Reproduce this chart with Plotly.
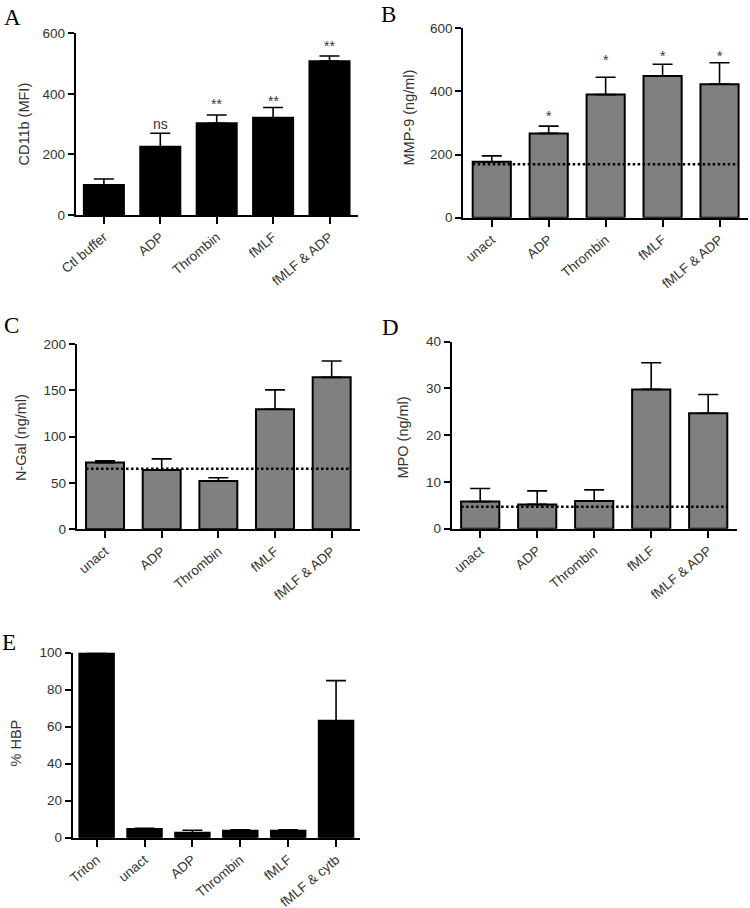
import plotly.graph_objects as go

W, H = 750, 908

# ---------------- data ----------------
A_cats = ["Ctl buffer", "ADP", "Thrombin", "fMLF", "fMLF & ADP"]
A_vals = [99, 225, 303, 321, 508]
A_err = [20, 45, 27, 34, 17]
A_sig = ["", "ns", "**", "**", "**"]
A_sig_y = [None, 300, 368, 378, 559]
A_ticks = [0, 200, 400, 600]

B_cats = ["unact", "ADP", "Thrombin", "fMLF", "fMLF & ADP"]
B_vals = [177, 267, 390, 449, 423]
B_err = [19, 23, 55, 37, 68]
B_base = 169
B_sig = ["", "*", "*", "*", "*"]
B_sig_y = [None, 321, 499, 513, 513]
B_ticks = [0, 200, 400, 600]

C_cats = ["unact", "ADP", "Thrombin", "fMLF", "fMLF & ADP"]
C_vals = [72, 64, 52, 129.5, 164]
C_err = [1.8, 12, 3.7, 21, 17.6]
C_base = 65.4
C_ticks = [0, 50, 100, 150, 200]

D_cats = ["unact", "ADP", "Thrombin", "fMLF", "fMLF & ADP"]
D_vals = [5.8, 5.2, 5.9, 29.8, 24.7]
D_err = [2.8, 2.9, 2.4, 5.7, 4.0]
D_base = 4.7
D_ticks = [0, 10, 20, 30, 40]

E_cats = ["Triton", "unact", "ADP", "Thrombin", "fMLF", "fMLF & cytb"]
E_vals = [100, 4.7, 2.7, 3.8, 3.8, 63.2]
E_err = [0, 0.4, 1.3, 0.5, 0.5, 21.7]
E_ticks = [0, 20, 40, 60, 80, 100]

# ---------------- style / layout helpers ----------------
TXT = "#333333"
SANS = "Liberation Sans, Arial, sans-serif"
SERIF = "Liberation Serif, Times New Roman, serif"


def px_x(p):
    return p / W


def px_y(p):
    return 1 - p / H


panels = [
    dict(cats=A_cats, vals=A_vals, err=A_err, fill="black", bw=0.71, ticks=A_ticks, ymax=600,
         xd=(75.7, 357.7), yd=(33.3, 215), title="CD11b (MFI)", tx=23, ty=124.5,
         letter="A", lx=2, ly=3, base=None, sig=A_sig, sig_y=A_sig_y),
    dict(cats=B_cats, vals=B_vals, err=B_err, fill="#808080", bw=0.67, ticks=B_ticks, ymax=600,
         xd=(463.3, 748), yd=(28.3, 217.7), title="MMP-9 (ng/ml)", tx=408.5, ty=118,
         letter="B", lx=379, ly=0, base=B_base, sig=B_sig, sig_y=B_sig_y),
    dict(cats=C_cats, vals=C_vals, err=C_err, fill="#808080", bw=0.67, ticks=C_ticks, ymax=200,
         xd=(76.7, 360), yd=(344, 529.3), title="N-Gal (ng/ml)", tx=20.5, ty=437.6,
         letter="C", lx=2, ly=311, base=C_base, sig=None, sig_y=None),
    dict(cats=D_cats, vals=D_vals, err=D_err, fill="#808080", bw=0.67, ticks=D_ticks, ymax=40,
         xd=(451.7, 736.7), yd=(341.7, 528.7), title="MPO (ng/ml)", tx=402.5, ty=437,
         letter="D", lx=380, ly=313, base=D_base, sig=None, sig_y=None),
    dict(cats=E_cats, vals=E_vals, err=E_err, fill="black", bw=0.72, ticks=E_ticks, ymax=100,
         xd=(72.7, 360), yd=(652.7, 837.7), title="% HBP", tx=15.5, ty=743,
         letter="E", lx=0, ly=628, base=None, sig=None, sig_y=None),
]

fig = go.Figure()
layout = dict(
    template="none",
    width=W, height=H,
    margin=dict(l=0, r=0, t=0, b=0, pad=0, autoexpand=False),
    paper_bgcolor="white", plot_bgcolor="white",
    showlegend=False,
    font=dict(family=SANS, size=13.5, color=TXT),
)
annotations = []

for i, p in enumerate(panels, start=1):
    xa = "x" if i == 1 else f"x{i}"
    ya = "y" if i == 1 else f"y{i}"
    xkey = "xaxis" if i == 1 else f"xaxis{i}"
    ykey = "yaxis" if i == 1 else f"yaxis{i}"
    n = len(p["cats"])
    xs = list(range(n))

    fig.add_trace(go.Bar(
        x=xs, y=p["vals"], width=p["bw"],
        marker=dict(color=p["fill"], line=dict(color="black", width=2)),
        error_y=dict(type="data", array=p["err"], arrayminus=[0] * n, symmetric=False,
                     color="black", thickness=1.6, width=10),
        xaxis=xa, yaxis=ya, hoverinfo="skip",
    ))

    if p["base"] is not None:
        fig.add_trace(go.Scatter(
            x=[xs[0] - p["bw"] / 2, xs[-1] + p["bw"] / 2], y=[p["base"], p["base"]],
            mode="lines", line=dict(color="black", width=2.5, dash="2.5px,2.5px"),
            xaxis=xa, yaxis=ya, hoverinfo="skip",
        ))

    layout[xkey] = dict(
        domain=[px_x(p["xd"][0]), px_x(p["xd"][1])],
        anchor=ya, range=[-0.5, n - 0.5], automargin=False,
        tickmode="array", tickvals=xs, ticktext=p["cats"], tickangle=-40,
        showline=True, linecolor="black", linewidth=2,
        ticks="outside", ticklen=7, tickwidth=2, tickcolor="black",
        showgrid=False, zeroline=False, fixedrange=True,
        tickfont=dict(family=SANS, size=13.5, color=TXT),
    )
    layout[ykey] = dict(
        domain=[px_y(p["yd"][1]), px_y(p["yd"][0])],
        anchor=xa, range=[0, p["ymax"]], automargin=False,
        tickmode="array", tickvals=p["ticks"],
        showline=True, linecolor="black", linewidth=2,
        ticks="outside", ticklen=6, tickwidth=2, tickcolor="black",
        showgrid=False, zeroline=False, fixedrange=True,
        tickfont=dict(family=SANS, size=13.5, color=TXT),
    )

    annotations.append(dict(
        text=p["title"], xref="paper", yref="paper",
        x=px_x(p["tx"]), y=px_y(p["ty"]), xanchor="center", yanchor="middle",
        textangle=-90, showarrow=False, font=dict(family=SANS, size=14.5, color=TXT),
    ))
    annotations.append(dict(
        text=p["letter"], xref="paper", yref="paper",
        x=px_x(p["lx"]), y=px_y(p["ly"]), xanchor="left", yanchor="top",
        showarrow=False, font=dict(family=SERIF, size=23, color="black"),
    ))
    if p["sig"]:
        for xi, s, sy in zip(xs, p["sig"], p["sig_y"]):
            if s:
                annotations.append(dict(
                    text=s, xref=xa, yref=ya, x=xi, y=sy,
                    xanchor="center", yanchor="middle", showarrow=False,
                    font=dict(family=SANS, size=14, color=TXT),
                ))

layout["annotations"] = annotations
fig.update_layout(**layout)
fig.write_html(
    "out.html",
    config={"displayModeBar": False, "staticPlot": True},
    post_script="document.body.style.margin='0px';document.body.style.overflow='hidden';",
)
